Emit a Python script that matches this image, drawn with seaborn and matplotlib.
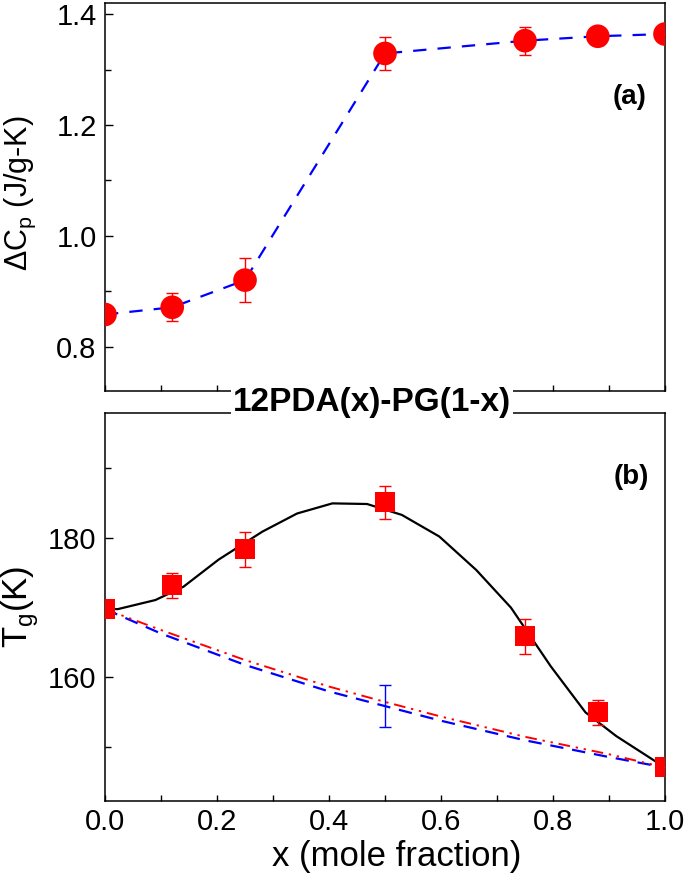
import numpy as np
import matplotlib
matplotlib.use("Agg")
from matplotlib import pyplot as plt
from matplotlib.ticker import MultipleLocator, FormatStrFormatter
import seaborn as sns

# mole fraction of 12PDA
x_frac = [0.0, 0.12, 0.25, 0.5, 0.75, 0.88, 1.0]

# (a) heat capacity step
dcp = [0.858, 0.871, 0.920, 1.329, 1.352, 1.360, 1.364]
dcp_err = [0.0, 0.025, 0.04, 0.03, 0.025, 0.015, 0.0]

# (b) glass transition temperature
tg = [169.8, 173.2, 178.4, 185.1, 165.9, 155.0, 147.2]
tg_err = [0.0, 1.8, 2.5, 2.4, 2.5, 1.8, 0.0]

# fit curve (black)
fit_x = [0.0, 0.023, 0.09, 0.14, 0.203, 0.281, 0.343, 0.406, 0.468, 0.53,
         0.597, 0.663, 0.725, 0.796, 0.858, 0.913, 1.0]
fit_tg = [169.8, 169.8, 171.1, 173.0, 176.9, 180.9, 183.5, 184.95, 184.86, 183.3,
          180.2, 175.4, 170.0, 161.6, 155.0, 151.6, 147.1]

# ideal mixing lines
ideal_x = [0.0, 0.1, 0.25, 0.4, 0.5, 0.6, 0.75, 0.9, 1.0]
ideal_blue = [169.8, 166.3, 161.8, 158.0, 155.9, 153.8, 151.0, 148.6, 147.1]
ideal_red = [169.8, 166.8, 162.5, 158.7, 156.5, 154.4, 151.5, 149.0, 147.1]
blue_bar_x = [0.5]
blue_bar_y = [155.9]
blue_bar_err = [3.0]

sns.set_style("ticks")
plt.rcParams['font.family'] = ['Liberation Sans', 'DejaVu Sans']
plt.rcParams['text.color'] = 'black'
plt.rcParams['axes.labelcolor'] = 'black'
plt.rcParams['xtick.color'] = 'black'
plt.rcParams['ytick.color'] = 'black'

fig = plt.figure(figsize=(6.85, 8.81), dpi=100)
ax1 = fig.add_axes([0.1533, 0.5562, 0.8175, 0.4404])
ax2 = fig.add_axes([0.1533, 0.0908, 0.8175, 0.4404])

# top panel
sns.lineplot(x=x_frac, y=dcp, ax=ax1, color='blue', lw=1.6, sort=False)
ax1.lines[-1].set_dashes([6, 5])
ax1.errorbar(x_frac, dcp, yerr=dcp_err, fmt='none', ecolor='red', elinewidth=1,
             capsize=4, capthick=1, zorder=3)
sns.scatterplot(x=x_frac, y=dcp, ax=ax1, color='red', marker='o', s=290,
                edgecolor='none', zorder=4)

# bottom panel
sns.lineplot(x=fit_x, y=fit_tg, ax=ax2, color='black', lw=1.6, sort=False)
sns.lineplot(x=ideal_x, y=ideal_blue, ax=ax2, color='blue', lw=1.6, sort=False)
ax2.lines[-1].set_dashes([6, 4])
sns.lineplot(x=ideal_x, y=ideal_red, ax=ax2, color='red', lw=1.4, sort=False)
ax2.lines[-1].set_dashes([6, 3, 1.2, 3, 1.2, 3])
ax2.errorbar(blue_bar_x, blue_bar_y, yerr=blue_bar_err, fmt='none', ecolor='blue',
             elinewidth=1, capsize=4, capthick=1, zorder=3)
ax2.errorbar(x_frac, tg, yerr=tg_err, fmt='none', ecolor='red', elinewidth=1,
             capsize=4, capthick=1, zorder=3)
sns.scatterplot(x=x_frac, y=tg, ax=ax2, color='red', marker='s', s=210,
                edgecolor='none', zorder=4)

ax1.set_xlim(0, 1)
ax1.set_ylim(0.72, 1.42)
ax2.set_xlim(0, 1)
ax2.set_ylim(142.3, 197.9)

ax1.yaxis.set_major_locator(MultipleLocator(0.2))
ax1.yaxis.set_minor_locator(MultipleLocator(0.1))
ax2.yaxis.set_major_locator(MultipleLocator(20))
ax2.yaxis.set_minor_locator(MultipleLocator(10))
for ax in (ax1, ax2):
    ax.xaxis.set_major_locator(MultipleLocator(0.2))
    ax.xaxis.set_minor_locator(MultipleLocator(0.1))
    ax.tick_params(axis='both', which='both', direction='in', width=1, labelsize=21)
    ax.tick_params(axis='y', which='major', length=6, pad=6)
    ax.tick_params(axis='y', which='minor', length=4)
    ax.tick_params(axis='x', which='major', length=4, pad=5)
    ax.tick_params(axis='x', which='minor', length=4)
    for s in ax.spines.values():
        s.set_linewidth(1.1)
        s.set_color('black')

ax1.tick_params(axis='x', labelbottom=False)
ax1.yaxis.set_major_formatter(FormatStrFormatter('%.1f'))
ax2.xaxis.set_major_formatter(FormatStrFormatter('%.1f'))

ax1.set_ylabel('ΔC$_\\mathregular{p}$ (J/g-K)', fontsize=22)
ax1.yaxis.set_label_coords(-0.12, 0.51)
ax2.set_ylabel('T$_\\mathregular{g}$(K)', fontsize=25)
ax2.yaxis.set_label_coords(-0.115, 0.5)
ax2.set_xlabel('x (mole fraction)', fontsize=25)
ax2.xaxis.set_label_coords(0.52, -0.1)

ax1.text(0.936, 0.758, '(a)', transform=ax1.transAxes, fontsize=20,
         fontweight='bold', ha='center', va='center')
ax2.text(0.939, 0.835, '(b)', transform=ax2.transAxes, fontsize=20,
         fontweight='bold', ha='center', va='center')

fig.text(0.543, 0.5437, '12PDA(x)-PG(1-x)', fontsize=24, fontweight='bold',
         ha='center', va='center',
         bbox=dict(boxstyle='square,pad=0.05', facecolor='white', edgecolor='none'))

fig.savefig('out.png', dpi=100)
